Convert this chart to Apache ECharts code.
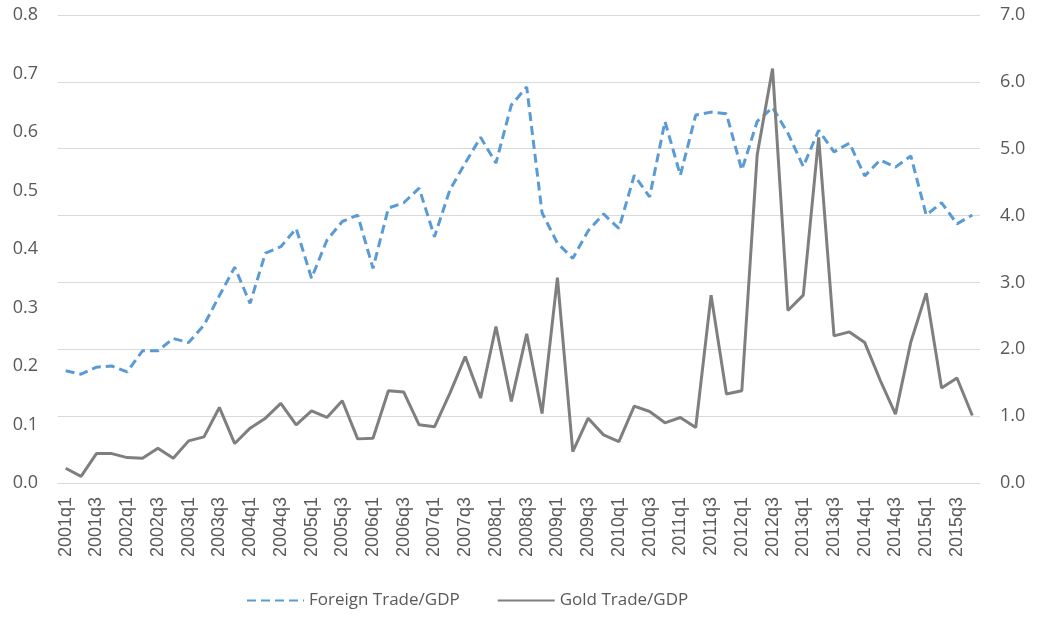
<!DOCTYPE html>
<html>
<head>
<meta charset="utf-8">
<script src="https://cdn.jsdelivr.net/npm/echarts@6/dist/echarts.min.js"></script>
<style>
html,body{margin:0;padding:0;background:#fff;}
#chart{width:1039px;height:619px;}
</style>
</head>
<body>
<div id="chart"></div>
<script>
const years = [2001,2002,2003,2004,2005,2006,2007,2008,2009,2010,2011,2012,2013,2014,2015];
const categories = [];
years.forEach(y => { for (let q = 1; q <= 4; q++) categories.push(y + 'q' + q); });

const foreignTrade = [
  0.192, 0.186, 0.198, 0.200, 0.190, 0.226, 0.226, 0.247, 0.240, 0.270,
  0.320, 0.369, 0.307, 0.393, 0.404, 0.435, 0.350, 0.415, 0.447, 0.458,
  0.367, 0.470, 0.479, 0.504, 0.421, 0.501, 0.547, 0.591, 0.547, 0.646,
  0.677, 0.462, 0.410, 0.384, 0.431, 0.460, 0.435, 0.526, 0.489, 0.618,
  0.526, 0.629, 0.634, 0.631, 0.535, 0.618, 0.642, 0.598, 0.541, 0.603,
  0.566, 0.581, 0.525, 0.552, 0.540, 0.559, 0.458, 0.479, 0.443, 0.458
];
const goldTrade = [
  0.22, 0.10, 0.44, 0.44, 0.38, 0.37, 0.52, 0.37, 0.63, 0.69,
  1.13, 0.59, 0.82, 0.97, 1.19, 0.87, 1.08, 0.98, 1.23, 0.66,
  0.67, 1.38, 1.36, 0.87, 0.84, 1.34, 1.89, 1.27, 2.34, 1.22,
  2.23, 1.04, 3.07, 0.47, 0.97, 0.72, 0.62, 1.15, 1.07, 0.90,
  0.98, 0.83, 2.81, 1.33, 1.38, 4.91, 6.20, 2.58, 2.81, 5.17,
  2.20, 2.26, 2.10, 1.54, 1.03, 2.11, 2.84, 1.42, 1.57, 1.01
];
const seriesNames = ['Foreign Trade/GDP', 'Gold Trade/GDP'];

const chart = echarts.init(document.getElementById('chart'), null, {renderer: 'canvas'});
const labelColor = '#595959';
chart.setOption({
  animation: false,
  backgroundColor: '#ffffff',
  grid: {left: 58, right: 59, top: 15, bottom: 136, containLabel: false},
  legend: {
    bottom: 5,
    left: 241,
    itemWidth: 57,
    itemHeight: 14,
    itemGap: 37,
    itemStyle: {opacity: 0},
    textStyle: {fontFamily: 'Open Sans', fontSize: 17, color: labelColor},
    data: seriesNames
  },
  xAxis: {
    type: 'category',
    data: categories,
    boundaryGap: true,
    axisLine: {show: true, lineStyle: {color: '#d9d9d9', width: 1}},
    axisTick: {show: false},
    axisLabel: {interval: 1, rotate: 90, margin: 14, fontFamily: 'Liberation Sans', fontSize: 18, color: labelColor}
  },
  yAxis: [
    {
      type: 'value', min: 0, max: 0.8, interval: 0.1,
      splitLine: {show: false},
      axisLine: {show: false}, axisTick: {show: false},
      axisLabel: {margin: 20, fontFamily: 'Open Sans', fontSize: 18, color: labelColor, formatter: v => v.toFixed(1)}
    },
    {
      type: 'value', min: 0, max: 7, interval: 1, position: 'right',
      splitLine: {show: true, lineStyle: {color: '#d9d9d9', width: 1}},
      axisLine: {show: false}, axisTick: {show: false},
      axisLabel: {margin: 20, fontFamily: 'Open Sans', fontSize: 18, color: labelColor, formatter: v => v.toFixed(1)}
    }
  ],
  series: [
    {
      name: seriesNames[0], type: 'line', yAxisIndex: 0, data: foreignTrade,
      symbol: 'none', smooth: false,
      lineStyle: {color: '#5B9BD5', width: 3, type: [9, 5]},
      itemStyle: {color: '#5B9BD5'}
    },
    {
      name: seriesNames[1], type: 'line', yAxisIndex: 1, data: goldTrade,
      symbol: 'none', smooth: false,
      lineStyle: {color: '#7F7F7F', width: 3},
      itemStyle: {color: '#7F7F7F'}
    }
  ]
});
</script>
</body>
</html>
